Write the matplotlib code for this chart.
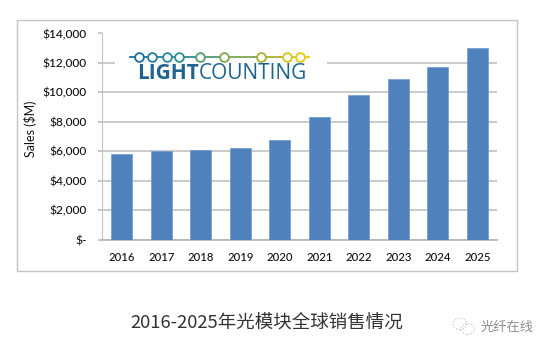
import matplotlib
matplotlib.use("Agg")
import matplotlib.pyplot as plt
from matplotlib.patches import Rectangle, Ellipse
from matplotlib.lines import Line2D

plt.rcParams['font.family'] = ['Lato', 'DejaVu Sans']

W, H = 550, 351

years = ["2016", "2017", "2018", "2019", "2020", "2021", "2022", "2023", "2024", "2025"]
sales = [5800, 6000, 6050, 6200, 6750, 8350, 9800, 10900, 11750, 13000]
yticks = [0, 2000, 4000, 6000, 8000, 10000, 12000, 14000]
ylabels = ["$-", "$2,000", "$4,000", "$6,000", "$8,000", "$10,000", "$12,000", "$14,000"]

logo_x = [139, 152, 167, 179, 200, 224, 261, 287, 300]
logo_colors = ["#1c6f9c", "#1f7f9f", "#24889a", "#2f8f8c", "#559c70", "#7ea650", "#a8b030", "#d6c41c", "#e6cc10"]


def px(x, y):
    # pixel position (from top left) to figure fraction
    return x / W, 1 - y / H


fig = plt.figure(figsize=(W / 100, H / 100), dpi=100)

# outer chart frame
fig.add_artist(Rectangle(px(17.5, 271), 499.5 / W, 251.5 / H, transform=fig.transFigure,
                         fill=False, edgecolor="#c4c4c4", linewidth=1))

ax = fig.add_axes([102 / W, 1 - 239.5 / H, 395 / W, 206 / H])
ax.bar(range(len(years)), sales, width=0.53, color="#4f81bd", edgecolor="#6f9bd0", linewidth=0.5, zorder=3)
ax.set_xlim(-0.5, 9.5)
ax.set_ylim(0, 14000)
ax.set_yticks(yticks)
ax.set_yticklabels(ylabels, fontsize=8.6, color="#111111", fontweight="medium")
ax.set_xticks(range(len(years)))
ax.set_xticklabels(years, fontsize=8.2, fontweight="medium", color="#111111")
ax.tick_params(axis="x", length=0, pad=9)
ax.tick_params(axis="y", length=3, color="#bdbdbd", pad=8, width=1.2)
ax.grid(axis="y", color="#c6c6c6", linewidth=1.3, zorder=0)
ax.set_axisbelow(True)
for s in ["top", "right"]:
    ax.spines[s].set_visible(False)
ax.spines["left"].set_color("#c6c6c6")
ax.spines["bottom"].set_color("#b8b8b8")
ax.spines["bottom"].set_linewidth(1.3)
ax.set_ylabel("Sales ($M)", fontsize=9, color="#111111")
ax.yaxis.set_label_coords(-65 / 395, (239.5 - 129) / 206)

# logo sits on a white patch over the gridlines
fig.add_artist(Rectangle(px(115, 86), 212 / W, 46 / H, transform=fig.transFigure,
                         facecolor="white", edgecolor="none", zorder=5))
line_edges = [130] + logo_x + [309]
line_colors = [logo_colors[0]] + logo_colors
for i, c in enumerate(line_colors):
    x0, y0 = px(line_edges[i], 57)
    x1, y1 = px(line_edges[i + 1], 57)
    fig.add_artist(Line2D([x0, x1], [y0, y1], transform=fig.transFigure, color=c, linewidth=1.3, zorder=6))
for x, c in zip(logo_x, logo_colors):
    xf, yf = px(x, 57)
    fig.add_artist(Line2D([xf], [yf], transform=fig.transFigure, marker="o", markersize=6.3,
                          markerfacecolor="white", markeredgecolor=c, markeredgewidth=1.3, zorder=7))
xf, yf = px(137, 73.5)
logo1 = fig.text(xf, yf, "LIGHT", fontsize=15, fontweight="bold", color="#1f6491", va="center", ha="left", zorder=7,
                 family=["Open Sans", "DejaVu Sans"])
fig.canvas.draw()
bb = logo1.get_window_extent()
fig.text(bb.x1 / W, yf, "COUNTING", fontsize=15, color="#1f6491", va="center", ha="left", zorder=7,
         family=["Open Sans", "DejaVu Sans"])

# caption and watermark under the chart
xf, yf = px(267, 323)
fig.text(xf, yf, "2016-2025年光模块全球销售情况", fontsize=13.3, color="#333333", ha="center", va="center",
         fontweight="light", family=["Noto Sans CJK SC", "DejaVu Sans"])
xf, yf = px(507, 327)
fig.text(xf, yf, "光纤在线", fontsize=9.5, color="#8e8e8e", ha="center", va="center",
         family=["Noto Sans CJK SC", "DejaVu Sans"])
# watermark icon, two dotted speech bubbles
for cx, cy, w, h in [(460, 324, 14, 11), (468, 329, 13, 11)]:
    xf, yf = px(cx, cy)
    fig.add_artist(Ellipse((xf, yf), w / W, h / H, transform=fig.transFigure, fill=False,
                           edgecolor="#c0c0c0", linewidth=0.8, linestyle=":"))

fig.savefig("out.png", dpi=100)
